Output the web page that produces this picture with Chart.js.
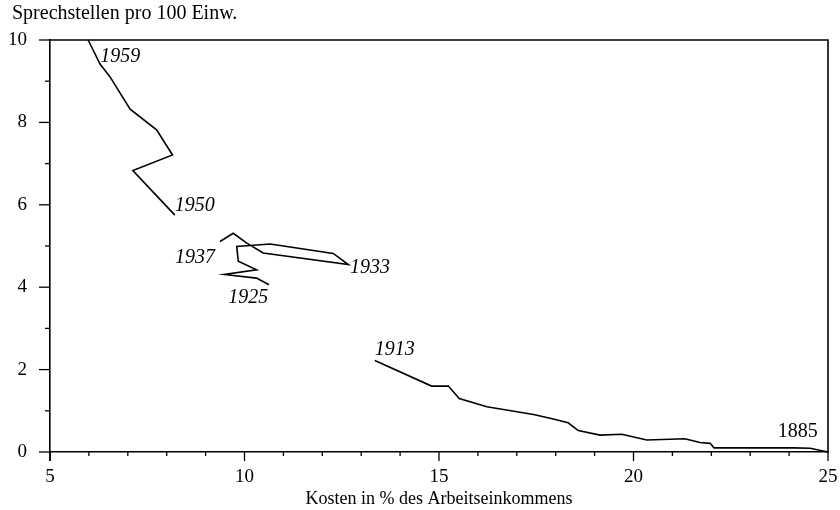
<!DOCTYPE html>
<html><head><meta charset="utf-8">
<script src="https://cdn.jsdelivr.net/npm/chart.js@4"></script>
<style>html,body{margin:0;padding:0;background:#fff}#w{width:840px;height:510px}</style>
</head><body><div id="w"><canvas id="c"></canvas></div>
<script>
// 1885–1913
const seg1X = [25.0, 24.54, 24.11, 22.07, 21.97, 21.71, 21.32, 20.34, 19.70, 19.14, 18.58, 18.32, 17.94, 17.43, 16.23, 15.52, 15.24, 14.81, 13.35];
const seg1Y = [0.0, 0.09, 0.10, 0.10, 0.21, 0.23, 0.32, 0.29, 0.43, 0.41, 0.52, 0.71, 0.80, 0.91, 1.10, 1.30, 1.60, 1.60, 2.22];
// 1925–1937
const seg2X = [10.63, 10.31, 9.48, 10.31, 9.84, 9.80, 10.66, 12.28, 12.67, 10.48, 10.06, 9.71, 9.37];
const seg2Y = [4.06, 4.22, 4.31, 4.42, 4.63, 4.99, 5.05, 4.82, 4.55, 4.83, 5.07, 5.31, 5.11];
// 1950–1959
const seg3X = [8.21, 7.13, 8.15, 7.74, 7.06, 6.54, 6.29, 5.98];
const seg3Y = [5.75, 6.83, 7.21, 7.82, 8.32, 9.11, 9.41, 10.0];

const yearLabels = ['1959', '1950', '1937', '1933', '1925', '1913', '1885'];
const yearLabelX = [6.29, 8.21, 9.24, 12.71, 9.58, 13.35, 23.71];
const yearLabelY = [9.59, 5.97, 4.71, 4.47, 3.74, 2.48, 0.49];
const yearLabelAlign = ['left', 'left', 'right', 'left', 'left', 'left', 'left'];
const yearLabelItalic = [true, true, true, true, true, true, false];

const xTicks = [5, 10, 15, 20, 25];
const yTicks = [0, 2, 4, 6, 8, 10];
const yTitle = 'Sprechstellen pro 100 Einw.';
const xTitle = 'Kosten in % des Arbeitseinkommens';

const FONT = "'Liberation Serif', 'Times New Roman', serif";
const toPts = (xs, ys) => xs.map((x, i) => ({x, y: ys[i]}));
const ds = (xs, ys) => ({data: toPts(xs, ys), showLine: true, borderColor: '#000', borderWidth: 1.6,
  pointRadius: 0, tension: 0, fill: false, clip: 2});

const deco = {
  id: 'deco',
  afterDraw(chart) {
    const {ctx, chartArea: a, scales: {x, y}} = chart;
    ctx.save();
    ctx.strokeStyle = '#000';
    ctx.lineWidth = 1.6;
    ctx.beginPath();
    ctx.moveTo(a.left, a.top); ctx.lineTo(a.right, a.top); ctx.lineTo(a.right, a.bottom);
    ctx.stroke();
    ctx.beginPath(); ctx.moveTo(a.left, a.bottom); ctx.lineTo(a.left, a.bottom + 9); ctx.stroke();
    ctx.lineWidth = 1.3;
    for (let v = 5; v <= 25; v++) {
      const px = x.getPixelForValue(v);
      const len = v % 5 === 0 ? 9 : 4;
      ctx.beginPath(); ctx.moveTo(px, a.bottom); ctx.lineTo(px, a.bottom + len); ctx.stroke();
    }
    for (let v = 0; v <= 10; v++) {
      const py = y.getPixelForValue(v);
      const len = v % 2 === 0 ? 11 : 5;
      ctx.beginPath(); ctx.moveTo(a.left, py); ctx.lineTo(a.left - len, py); ctx.stroke();
    }
    ctx.fillStyle = '#000';
    ctx.textBaseline = 'middle';
    ctx.textAlign = 'left';
    ctx.font = '20px ' + FONT;
    ctx.fillText(yTitle, 12, 14);
    yearLabels.forEach((t, i) => {
      ctx.font = (yearLabelItalic[i] ? 'italic ' : '') + '20px ' + FONT;
      ctx.textAlign = yearLabelAlign[i];
      ctx.fillText(t, x.getPixelForValue(yearLabelX[i]), y.getPixelForValue(yearLabelY[i]));
    });
    ctx.restore();
  }
};

new Chart(document.getElementById('c'), {
  type: 'scatter',
  data: {datasets: [ds(seg1X, seg1Y), ds(seg2X, seg2Y), ds(seg3X, seg3Y)]},
  options: {
    responsive: true, maintainAspectRatio: false, animation: false,
    layout: {padding: {top: 40, right: 0, left: 0, bottom: 0}},
    plugins: {legend: {display: false}, tooltip: {enabled: false}, title: {display: false}},
    scales: {
      x: {type: 'linear', min: 5, max: 25,
        afterBuildTicks: s => { s.ticks = xTicks.map(v => ({value: v})); },
        afterFit: s => { s.height = 58; s.paddingRight = 12; s.paddingLeft = 0; },
        grid: {display: false, drawTicks: false}, border: {display: true, color: '#000', width: 1.6},
        ticks: {color: '#000', padding: 14, font: {family: FONT, size: 19}, maxRotation: 0, autoSkip: false},
        title: {display: true, text: xTitle, color: '#000', padding: {top: 0, bottom: 0}, font: {family: FONT, size: 18}}
      },
      y: {type: 'linear', min: 0, max: 10,
        afterBuildTicks: s => { s.ticks = yTicks.map(v => ({value: v})); },
        afterFit: s => { s.width = 50; },
        grid: {display: false}, border: {display: true, color: '#000', width: 1.6},
        ticks: {color: '#000', padding: 15, font: {family: FONT, size: 19}, autoSkip: false}
      }
    }
  },
  plugins: [deco]
});
</script></body></html>
